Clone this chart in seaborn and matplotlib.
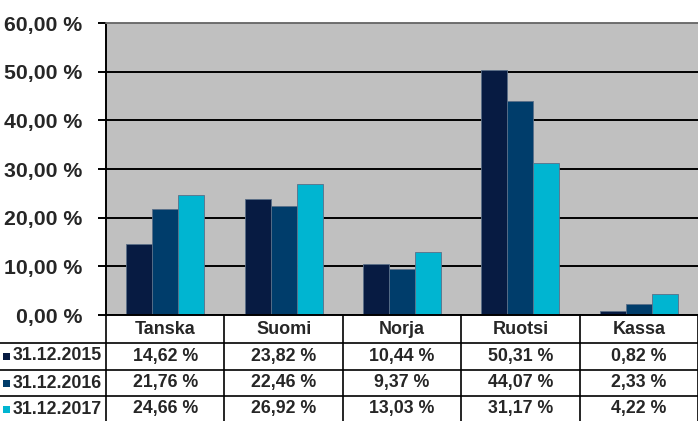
import pandas as pd
import numpy as np
import matplotlib.pyplot as plt
import seaborn as sns
from matplotlib.lines import Line2D
from matplotlib.patches import Rectangle
from matplotlib.ticker import FuncFormatter
from matplotlib.transforms import blended_transform_factory

# =====================================================
# DATA
# =====================================================

countries = ["Tanska", "Suomi", "Norja", "Ruotsi", "Kassa"]
dates = ["31.12.2015", "31.12.2016", "31.12.2017"]

share_2015 = [14.62, 23.82, 10.44, 50.31, 0.82]
share_2016 = [21.76, 22.46, 9.37, 44.07, 2.33]
share_2017 = [24.66, 26.92, 13.03, 31.17, 4.22]

colors = ["#071b42", "#003d6b", "#00b5d1"]

series = [share_2015, share_2016, share_2017]

df = pd.DataFrame({
    "maa": countries * 3,
    "pvm": [d for d in dates for _ in countries],
    "osuus": share_2015 + share_2016 + share_2017,
})

# =====================================================
# FIGURE
# =====================================================

sns.set_style("white")
plt.rcParams["font.family"] = ["Liberation Sans", "DejaVu Sans"]
plt.rcParams["font.weight"] = "bold"

W, H = 698, 421
fig = plt.figure(figsize=(W / 100, H / 100), dpi=100)
ax = fig.add_axes([106 / W, (H - 315) / H, (W - 106) / W, 292 / H])

sns.barplot(
    data=df,
    x="maa",
    y="osuus",
    hue="pvm",
    palette=colors,
    saturation=1,
    width=0.66,
    gap=0,
    edgecolor="#5a6f88",
    linewidth=0.6,
    ax=ax,
)

ax.legend_.remove()
ax.set_facecolor("#c0c0c0")
ax.set_ylim(0, 60)
ax.set_yticks(np.arange(0, 61, 10))
ax.yaxis.set_major_formatter(
    FuncFormatter(lambda v, p: f"{v:.2f}".replace(".", ",") + " %")
)
ax.yaxis.grid(True, color="black", linewidth=1.4)
ax.set_axisbelow(True)
ax.set_xlabel("")
ax.set_ylabel("")
ax.set_xticks([])
ax.tick_params(axis="y", length=6, width=1.4, color="black",
               labelsize=15.3, pad=11, left=True)
for lab in ax.get_yticklabels():
    lab.set_fontweight("bold")

for side in ["top", "right"]:
    ax.spines[side].set_visible(False)
ax.spines["left"].set_color("black")
ax.spines["left"].set_linewidth(1.4)
ax.spines["bottom"].set_color("black")
ax.spines["bottom"].set_linewidth(1.4)

# top border of plot area
fig.add_artist(Line2D([106 / W, 1], [(H - 23) / H] * 2,
                      transform=fig.transFigure, color="#707070", lw=1.4))

# =====================================================
# DATA TABLE
# =====================================================

tr = blended_transform_factory(ax.transData, fig.transFigure)


def fy(py):
    return 1 - py / H


header_y = 329
row_y = [356, 383, 409]

for i, c in enumerate(countries):
    fig.text(i, fy(header_y), c, transform=tr, ha="center", va="center",
             fontsize=13, fontweight="bold")
    for r, vals in enumerate(series):
        txt = f"{vals[i]:.2f}".replace(".", ",") + " %"
        fig.text(i, fy(row_y[r]), txt, transform=tr, ha="center",
                 va="center", fontsize=12.8, fontweight="bold")

for r, d in enumerate(dates):
    fig.text(13 / W, fy(row_y[r]), d, ha="left", va="center",
             fontsize=12.8, fontweight="bold")
    fig.add_artist(Rectangle((3 / W, fy(row_y[r] + 4)), 7 / W, 7 / H,
                             transform=fig.transFigure,
                             facecolor=colors[r], edgecolor="none"))

for py in [343, 370, 396]:
    fig.add_artist(Line2D([0, 1], [fy(py)] * 2, transform=fig.transFigure,
                          color="black", lw=1.2))

for xb in np.arange(-0.5, len(countries), 1.0):
    fig.add_artist(Line2D([xb, xb], [fy(315), 0], transform=tr,
                          color="black", lw=1.2))

fig.savefig("out.png", dpi=100)
